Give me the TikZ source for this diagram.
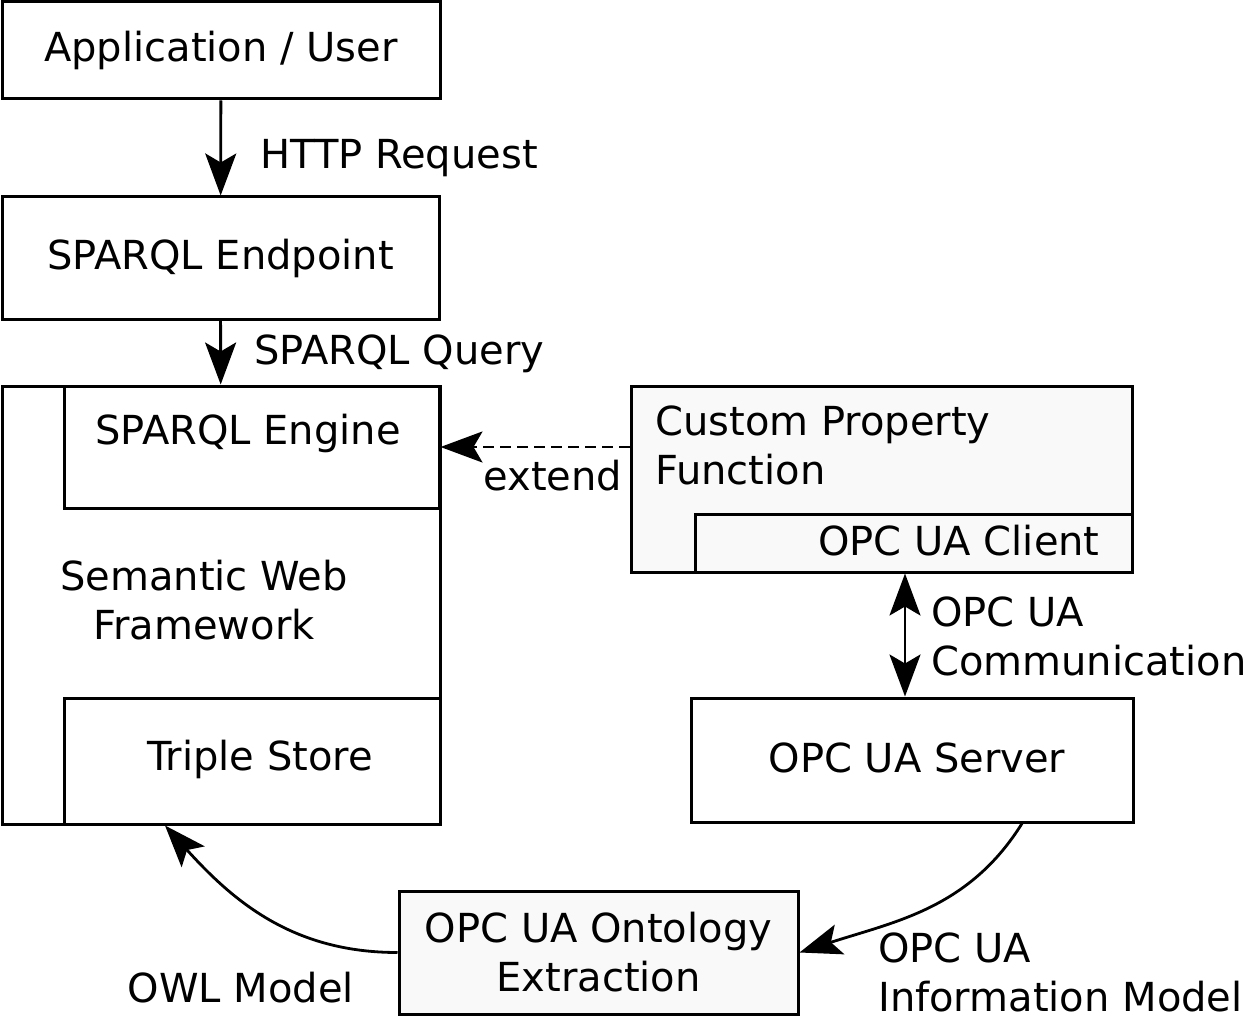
\documentclass[tikz,border=0pt]{standalone}
\usepackage{fontspec}
\setmainfont{DejaVu Sans}
\usetikzlibrary{arrows.meta}
\definecolor{boxgray}{RGB}{249,249,249}

\begin{document}
\begin{tikzpicture}[x=1pt, y=-1pt,
    every node/.style={font=\fontsize{40}{49}\selectfont},
    box/.style={draw, line width=3pt, inner sep=0pt},
    txt/.style={inner sep=0pt},
    tip/.tip={Stealth[length=42pt, width=31pt, inset=9pt]},
    arr/.style={line width=2.8pt, -tip}]% Architecture:

\useasboundingbox (0,0) rectangle (1247,1016);

\node[box, minimum width=438pt, minimum height=97pt] (app) at (221, 50.5) {Application / User};
\node[box, minimum width=437pt, minimum height=122pt] (endpoint) at (220.5, 258) {SPARQL Endpoint};
\node[box, minimum width=438pt, minimum height=438pt] (swf) at (221, 605) {};
\node[box, fill=white, minimum width=375pt, minimum height=122pt] (engine) at (251.5, 447) {};
\node[txt] (enginetxt) at (248, 433) {SPARQL Engine};
\node[txt, align=center] (swftxt) at (204, 600) {Semantic Web\\Framework};
\node[box, fill=white, minimum width=376pt, minimum height=126pt] (triple) at (252, 761) {};
\node[txt] (tripletxt) at (260, 759) {Triple Store};

\node[box, fill=boxgray, minimum width=501pt, minimum height=186pt] (custom) at (881.5, 479) {};
\node[txt, align=left, anchor=west] (customtxt) at (655, 445) {Custom Property\\Function};
\node[box, fill=boxgray, minimum width=437pt, minimum height=58pt] (client) at (913.5, 543) {};
\node[txt] (clienttxt) at (959, 541) {OPC UA Client};
\node[box, minimum width=442pt, minimum height=124pt] (server) at (912, 760) {};
\node[txt] (servertxt) at (917, 758) {OPC UA Server};
\node[box, fill=boxgray, align=center, minimum width=399pt, minimum height=123pt] (extract) at (598.5, 952.5) {OPC UA Ontology\\Extraction};

\draw[arr] (app) -- (endpoint);
\node[txt, anchor=west] (http) at (260, 158) {HTTP Request};
\draw[arr] (endpoint) -- (swf);
\node[txt, anchor=west] (query) at (254, 354) {SPARQL Query};
\draw[arr, dash pattern=on 11pt off 6pt] (custom.west |- engine.east) -- (engine.east);
\node[txt] (extend) at (553, 476) {extend};
\draw[line width=2.8pt, tip-tip] ([xshift=-8.5pt]client.south) -- ([xshift=-7pt]server.north);
\node[txt, align=left, anchor=west] (comm) at (931, 636) {OPC UA\\Communication};
\draw[arr] ([xshift=110pt]server.south) to[out=-122, in=18] (extract.east);
\node[txt, align=left, anchor=west] (infomodel) at (878, 972) {OPC UA\\Information Model};
\draw[arr] (extract.west) to[out=180, in=-48] ([xshift=-87pt]triple.south);
\node[txt] (owl) at (241, 988) {OWL Model};

\end{tikzpicture}
\end{document}
